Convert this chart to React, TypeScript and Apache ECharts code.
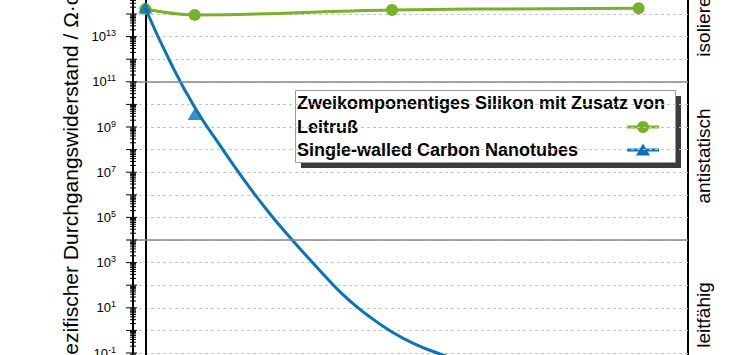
import React, { useEffect, useRef } from 'react';
import * as echarts from 'echarts';

const FONT = 'Arial, "Liberation Sans", Helvetica, sans-serif';

// axis ranges (x in filler content, y as decades of resistivity)
const xRange = [-0.25, 11];
const yExpRange = [-2, 15];

// Leitruß measured points
const leitrussX = [0, 1, 5, 10];
const leitrussY = [1.65e14, 9.1e13, 1.5e14, 1.8e14];

// SWCNT measured points (visible)
const swcntX = [0, 1];
const swcntY = [1.95e14, 3.8e9];

// SWCNT fitted curve
const swcntFitX = [0, 0.5, 1, 1.5, 2, 2.5, 3, 3.5, 4, 4.5, 5, 5.5, 6, 6.5, 7];
const swcntFitY = [1.8e14, 7.9e11, 7.4e9, 1.7e8, 4.6e6, 1.7e5, 8.9e3, 550, 39, 4.8, 0.85, 0.23, 0.087, 0.038, 0.018];

const regionBounds = [1e11, 1e4];
const regionLabels = ['isolierend', 'antistatisch', 'leitfähig'];
const regionLabelY = [16, 156, 315];

const legendTitle = 'Zweikomponentiges Silikon mit Zusatz von';
const seriesNames = ['Leitruß', 'Single-walled Carbon Nanotubes'];
const yTitle = 'spezifischer Durchgangswiderstand / Ω·cm';

const GREEN = '#78b22a';
const BLUE = '#0a73b9';

// the chart is drawn larger than the view and clipped
const OFF = 40;
const VIEW_W = 750;
const VIEW_H = 355;
const INNER_H = VIEW_H + 2 * OFF;

export default function App() {
  const ref = useRef<HTMLDivElement>(null);
  useEffect(() => {
    if (!ref.current) return;
    const chart = echarts.init(ref.current, undefined, { renderer: 'svg' });
    const lg = (v: number) => Math.log10(v);

    const tickData: number[][] = [];
    for (let n = yExpRange[0]; n <= yExpRange[1]; n++) {
      tickData.push([xRange[0], n, 1]);
      if (n < yExpRange[1]) {
        for (let k = 2; k <= 9; k++) tickData.push([xRange[0], n + Math.log10(k), 0]);
      }
    }

    const gridTop = OFF - 8.6;
    const gridBottom = INNER_H - (OFF + 375.6);

    const option: any = {
      animation: false,
      grid: {
        left: 133, right: 62, top: gridTop, bottom: gridBottom,
        show: true, borderColor: '#000', borderWidth: 2, backgroundColor: 'transparent',
      },
      xAxis: { type: 'value', min: xRange[0], max: xRange[1], show: false },
      yAxis: {
        type: 'value', min: yExpRange[0], max: yExpRange[1], interval: 1,
        name: yTitle, nameLocation: 'middle', nameGap: 47,
        nameTextStyle: { fontSize: 21, color: '#000', fontFamily: FONT, padding: [0, 0, 0, 13] },
        axisLine: { show: true, lineStyle: { color: '#000', width: 2 } },
        axisTick: { show: false },
        axisLabel: {
          margin: 17, color: '#000', fontFamily: FONT,
          formatter: (v: number) => (Math.abs(v % 2) === 1 && v >= -1 && v <= 13 ? `{b|10}{s|${v}}` : ''),
          rich: {
            b: { fontSize: 13, fontFamily: FONT, color: '#000', lineHeight: 16 },
            s: { fontSize: 9, fontFamily: FONT, color: '#000', verticalAlign: 'top' },
          },
        },
        splitLine: { show: true, lineStyle: { color: '#c4c4c4', type: [3, 3], width: 1 } },
      },
      series: [
        {
          type: 'custom', name: 'ticks', silent: true, clip: false, z: 5,
          data: tickData,
          encode: { x: 0, y: 1 },
          renderItem: (_p: any, api: any) => {
            const pt = api.coord([api.value(0), api.value(1)]);
            const major = api.value(2) === 1;
            return {
              type: 'line',
              shape: { x1: pt[0] - (major ? 7 : 3), y1: pt[1], x2: pt[0] + (major ? 4 : 3), y2: pt[1] },
              style: { stroke: '#000', lineWidth: 1 },
            };
          },
        },
        {
          type: 'line', name: seriesNames[0], smooth: 0.4,
          data: leitrussX.map((x, i) => [x, lg(leitrussY[i])]),
          symbol: 'circle', symbolSize: 12, showSymbol: true,
          lineStyle: { color: GREEN, width: 3 }, itemStyle: { color: GREEN },
          z: 3,
        },
        {
          type: 'line', name: 'fit', smooth: 0.5,
          data: swcntFitX.map((x, i) => [x, lg(swcntFitY[i])]),
          showSymbol: false, symbol: 'none',
          lineStyle: { color: BLUE, width: 3 },
          z: 4,
          markLine: {
            silent: true, symbol: 'none', label: { show: false },
            lineStyle: { color: '#8a8a8a', type: 'solid', width: 1.5 },
            data: regionBounds.map((b) => ({ yAxis: lg(b) })),
          },
        },
        {
          type: 'scatter', name: seriesNames[1],
          data: swcntX.map((x, i) => [x, lg(swcntY[i])]),
          symbol: 'triangle', symbolSize: [14, 12],
          itemStyle: { color: BLUE },
          z: 6,
        },
      ],
      graphic: [
        ...regionLabels.map((t, i) => ({
          type: 'text', x: 703, y: regionLabelY[i] + OFF, rotation: Math.PI / 2,
          style: { text: t, fontSize: 19, fontFamily: FONT, fill: '#000', align: 'center', verticalAlign: 'middle' },
        })),
        {
          type: 'group', z: 100, x: 0, y: OFF,
          children: [
            { type: 'rect', shape: { x: 301, y: 96, width: 380, height: 72 }, style: { fill: '#3b3b3b' } },
            { type: 'rect', shape: { x: 295.5, y: 90.5, width: 380, height: 72 }, style: { fill: '#fff', stroke: '#9a9a9a', lineWidth: 1 } },
            { type: 'text', x: 297, y: 103, style: { text: legendTitle, fontSize: 18, fontWeight: 'bold', fontFamily: FONT, fill: '#000', verticalAlign: 'middle' } },
            { type: 'text', x: 297, y: 127, style: { text: seriesNames[0], fontSize: 18, fontWeight: 'bold', fontFamily: FONT, fill: '#000', verticalAlign: 'middle' } },
            { type: 'text', x: 297, y: 150, style: { text: seriesNames[1], fontSize: 18, fontWeight: 'bold', fontFamily: FONT, fill: '#000', verticalAlign: 'middle' } },
            { type: 'line', shape: { x1: 627, y1: 127, x2: 659, y2: 127 }, style: { stroke: GREEN, lineWidth: 3 } },
            { type: 'circle', shape: { cx: 643, cy: 127, r: 6 }, style: { fill: GREEN } },
            { type: 'line', shape: { x1: 627, y1: 150, x2: 659, y2: 150 }, style: { stroke: BLUE, lineWidth: 3 } },
            { type: 'polygon', shape: { points: [[643, 143.5], [650, 155.5], [636, 155.5]] }, style: { fill: BLUE } },
          ],
        },
      ],
    };
    chart.setOption(option);
    return () => chart.dispose();
  }, []);
  return (
    <div
      style={{ position: 'fixed', left: 0, top: 0, width: VIEW_W, height: VIEW_H, overflow: 'hidden', background: '#fff' }}
    >
      <div ref={ref} style={{ position: 'absolute', left: 0, top: -OFF, width: VIEW_W, height: INNER_H }} />
    </div>
  );
}
